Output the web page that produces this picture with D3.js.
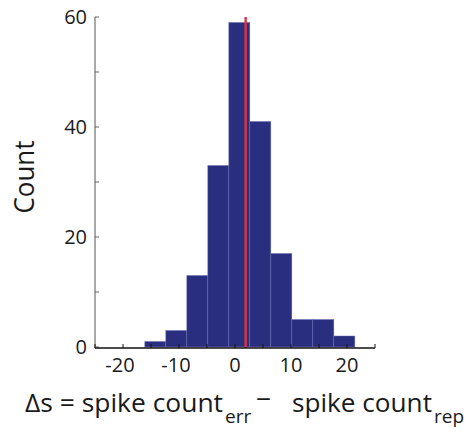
<!DOCTYPE html>
<html>
<head>
<meta charset="utf-8">
<script src="https://cdn.jsdelivr.net/npm/d3@7"></script>
<style>
  body { margin: 0; background: #fff; }
  text { font-family: "Open Sans", sans-serif; fill: #1a1a1a; }
</style>
</head>
<body>
<svg width="470" height="432"></svg>
<script>
// histogram bins (left edge, right edge) and counts
var binStarts = [-16.1, -12.35, -8.6, -4.85, -1.1, 2.65, 6.4, 10.15, 13.9, 17.65];
var binWidth = 3.75;
var counts = [1, 3, 13, 33, 59, 41, 17, 5, 5, 2];
var meanDelta = 1.9;

var xTicks = [-20, -10, 0, 10, 20];
var xMinorTicks = [-25, -20, -15, -10, -5, 0, 5, 10, 15, 20, 25];
var yTicks = [0, 20, 40, 60];
var yMinorTicks = [0, 10, 20, 30, 40, 50, 60];

var svg = d3.select("svg");

var x = d3.scaleLinear().domain([-25, 25]).range([95, 375]);
var y = d3.scaleLinear().domain([0, 60]).range([347, 17]);

var bins = binStarts.map(function(s, i) {
    return {x0: s, x1: s + binWidth, n: counts[i]};
});

// bars
svg.append("g").selectAll("rect")
    .data(bins)
    .enter()
    .append("rect")
    .attr("x", function(d) { return x(d.x0); })
    .attr("y", function(d) { return y(d.n); })
    .attr("width", function(d) { return x(d.x1) - x(d.x0); })
    .attr("height", function(d) { return y(0) - y(d.n); })
    .attr("fill", "#2a2e7e")
    .attr("stroke", "#6c70b4")
    .attr("stroke-width", 0.5);

// red mean line
svg.append("line")
    .attr("x1", x(meanDelta)).attr("x2", x(meanDelta))
    .attr("y1", y(60)).attr("y2", y(0) + 1)
    .attr("stroke", "#e0303c")
    .attr("stroke-width", 2.4);

// y axis (grey, ticks inward)
var yAxis = svg.append("g");
yAxis.append("line")
    .attr("x1", 95).attr("x2", 95)
    .attr("y1", y(60)).attr("y2", y(0) + 1)
    .attr("stroke", "#8c8c8c").attr("stroke-width", 1.5);
yAxis.selectAll(".tk")
    .data(yMinorTicks)
    .enter()
    .append("line")
    .attr("x1", 95).attr("x2", 99)
    .attr("y1", function(d) { return y(d); })
    .attr("y2", function(d) { return y(d); })
    .attr("stroke", "#666").attr("stroke-width", 1);
yAxis.selectAll("text")
    .data(yTicks)
    .enter()
    .append("text")
    .attr("x", 87)
    .attr("y", function(d) { return y(d); })
    .attr("dy", "0.36em")
    .attr("text-anchor", "end")
    .style("font-size", "20px")
    .text(function(d) { return d; });

// x axis (black, ticks inward)
var xAxis = svg.append("g");
xAxis.append("line")
    .attr("x1", 95).attr("x2", 375)
    .attr("y1", 348).attr("y2", 348)
    .attr("stroke", "#111").attr("stroke-width", 1.5);
xAxis.selectAll(".tk")
    .data(xMinorTicks)
    .enter()
    .append("line")
    .attr("x1", function(d) { return x(d); })
    .attr("x2", function(d) { return x(d); })
    .attr("y1", 348).attr("y2", 344)
    .attr("stroke", "#111").attr("stroke-width", 1);
xAxis.selectAll("text")
    .data(xTicks)
    .enter()
    .append("text")
    .attr("x", function(d) { return x(d) - (d < 0 ? 3 : 0); })
    .attr("y", 372)
    .attr("text-anchor", "middle")
    .style("font-size", "20px")
    .text(function(d) { return d; });

// axis titles
svg.append("text")
    .attr("transform", "translate(34,177) rotate(-90)")
    .attr("text-anchor", "middle")
    .attr("textLength", 73)
    .attr("lengthAdjust", "spacingAndGlyphs")
    .style("font-size", "27px")
    .text("Count");

var xt = svg.append("g").style("font-size", "26px");
xt.append("text").attr("x", 25).attr("y", 412)
    .attr("textLength", 198).attr("lengthAdjust", "spacingAndGlyphs")
    .text("\u0394s = spike count");
xt.append("text").attr("x", 225).attr("y", 423)
    .style("font-size", "19px")
    .text("err");
xt.append("text").attr("x", 256).attr("y", 406)
    .attr("textLength", 15).attr("lengthAdjust", "spacingAndGlyphs")
    .style("font-size", "26px")
    .text("\u2013");
xt.append("text").attr("x", 292).attr("y", 412)
    .attr("textLength", 140).attr("lengthAdjust", "spacingAndGlyphs")
    .text("spike count");
xt.append("text").attr("x", 434).attr("y", 423)
    .style("font-size", "19px")
    .text("rep");
</script>
</body>
</html>
